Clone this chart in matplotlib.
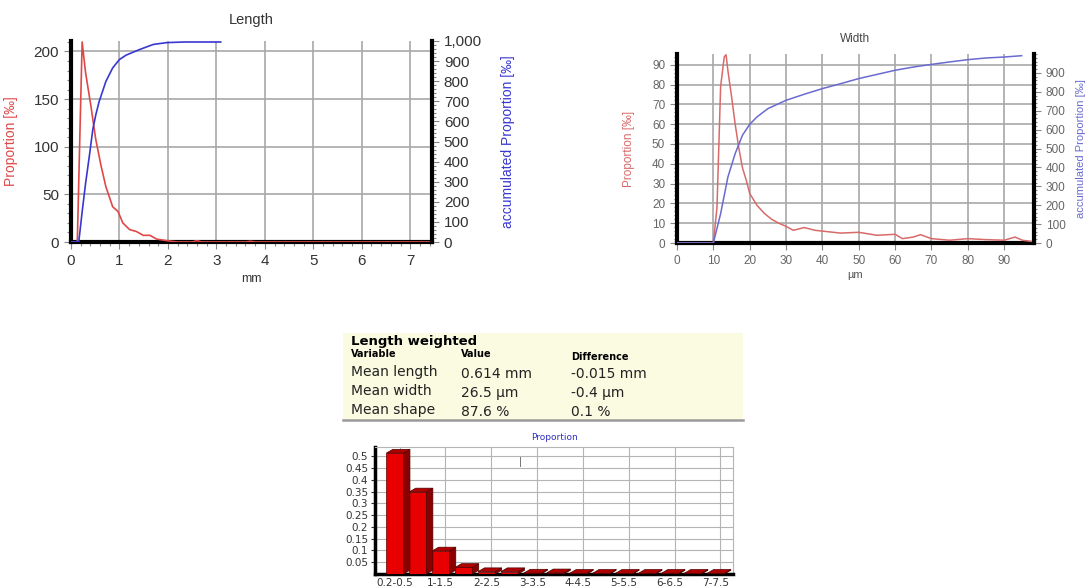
import numpy as np
import matplotlib
matplotlib.use("Agg")
import matplotlib.pyplot as plt
from matplotlib.patches import Polygon
from matplotlib.ticker import MultipleLocator, FuncFormatter

plt.rcParams['font.family'] = ['Liberation Sans', 'DejaVu Sans']

# --- Length distribution (mm, per mille) ---
len_x = [0, 0.13, 0.23, 0.30, 0.41, 0.51, 0.62, 0.72, 0.86, 0.97, 1.07, 1.21, 1.35,
         1.49, 1.63, 1.77, 1.98, 2.19, 2.5, 2.6, 2.7, 3.6, 3.7, 3.8, 7.45]
len_prop = [0, 0, 210, 178, 143, 108, 80, 58, 37, 32, 20, 13, 11,
            7, 7, 3, 1.4, 0, 0, 1.4, 0, 0, 0.8, 0, 0]
len_cum_x = [0, 0.16, 0.23, 0.30, 0.38, 0.45, 0.51, 0.58, 0.72, 0.86, 1.0, 1.14,
             1.42, 1.70, 1.98, 2.33, 3.09]
len_cum = [0, 0, 150, 290, 430, 560, 631, 698, 799, 866, 908, 930,
           958, 983, 992, 995, 995]

# --- Width distribution (um, per mille) ---
wid_x = [0, 10, 11, 12, 13, 13.5, 14, 15, 16, 17, 18, 19, 20, 22, 24, 26, 28, 30,
         32, 35, 38, 40, 45, 50, 55, 60, 62, 65, 67, 70, 75, 80, 85, 90, 93, 95, 98]
wid_prop = [0, 0, 18, 79, 94, 95, 87, 74, 60, 48, 38, 32, 25, 19, 15, 12, 10, 8.4,
            6.4, 7.8, 6.4, 6, 5, 5.4, 3.9, 4.4, 2.2, 3, 4.2, 2.2, 1.4, 2.2, 1.7, 1.4, 3, 1.4, 0.7]
wid_cum_x = [0, 10, 12, 14, 16, 18, 20, 22, 25, 30, 35, 40, 45, 50, 55, 60, 65,
             70, 75, 80, 85, 90, 94.8]
wid_cum = [0, 0, 155, 349, 473, 570, 628, 667, 711, 755, 787, 817, 843, 870, 892,
           914, 931, 945, 958, 970, 979, 984, 991]

# --- Summary table ---
table_title = "Length weighted"
table_head = ["Variable", "Value", "Difference"]
table_vars = ["Mean length", "Mean width", "Mean shape"]
table_vals = ["0.614 mm", "26.5 µm", "87.6 %"]
table_diff = ["-0.015 mm", "-0.4 µm", "0.1 %"]

# --- Proportion histogram ---
bar_cats = ["0.2-0.5", "0.5-1", "1-1.5", "1.5-2", "2-2.5", "2.5-3", "3-3.5", "3.5-4",
            "4-4.5", "4.5-5", "5-5.5", "5.5-6", "6-6.5", "6.5-7", "7-7.5"]
bar_vals = [0.514, 0.349, 0.098, 0.028, 0.01, 0.01, 0.004, 0.005, 0.003, 0.003,
            0.003, 0.003, 0.003, 0.003, 0.003]

W, H = 1085, 588
fig = plt.figure(figsize=(W / 100, H / 100), dpi=100)


def rect(l, t, r, b):
    return [l / W, 1 - b / H, (r - l) / W, (b - t) / H]


def fx(x):
    return x / W


def fy(y):
    return 1 - y / H


def style_dual(ax, ax2, tick_col, fs):
    for s in ['top', 'right']:
        ax.spines[s].set_visible(False)
    for s in ['left', 'bottom']:
        ax.spines[s].set_linewidth(3)
        ax.spines[s].set_color('black')
    for s in ['top', 'left', 'bottom']:
        ax2.spines[s].set_visible(False)
    ax2.spines['right'].set_linewidth(3)
    ax2.spines['right'].set_color('black')
    ax.tick_params(which='both', colors='#888888', labelcolor=tick_col, labelsize=fs, width=0.8)
    ax2.tick_params(which='both', colors='#888888', labelcolor=tick_col, labelsize=fs, width=0.8)
    ax.tick_params(which='major', length=5)
    ax.tick_params(which='minor', length=3)
    ax2.tick_params(which='major', length=5)
    ax2.tick_params(which='minor', length=3)
    ax.grid(True, which='major', color='#a8a8a8', lw=1.2)
    ax.set_axisbelow(True)


# Length chart
ax = fig.add_axes(rect(71, 41, 432, 242))
ax2 = ax.twinx()
ax.plot(len_x, len_prop, color='#e04848', lw=1.2, zorder=3)
ax2.plot(len_cum_x, len_cum, color='#3838d0', lw=1.2, zorder=3)
ax.set_xlim(0, 7.45)
ax.set_ylim(0, 211)
ax2.set_ylim(0, 1000)
ax.xaxis.set_major_locator(MultipleLocator(1))
ax.xaxis.set_minor_locator(MultipleLocator(0.2))
ax.yaxis.set_major_locator(MultipleLocator(50))
ax.yaxis.set_minor_locator(MultipleLocator(10))
ax2.yaxis.set_major_locator(MultipleLocator(100))
ax2.yaxis.set_minor_locator(MultipleLocator(20))
ax2.yaxis.set_major_formatter(FuncFormatter(lambda v, p: f"{v:,.0f}"))
style_dual(ax, ax2, '#333333', 11)
ax.set_title("Length", fontsize=10.5, color='#333333', pad=12)
ax.set_xlabel("mm", fontsize=9, color='#333333')
ax.set_ylabel("Proportion [‰]", fontsize=10, color='#e04848')
ax.yaxis.set_label_coords(-0.147, 0.5)
ax2.set_ylabel("accumulated Proportion [‰]", fontsize=10, color='#3838d0')
ax2.yaxis.set_label_coords(1.19, 0.5)

# Width chart
bx = fig.add_axes(rect(677, 54, 1034, 243))
bx2 = bx.twinx()
bx.plot(wid_x, wid_prop, color='#d86a6a', lw=1.1, zorder=3)
bx2.plot(wid_cum_x, wid_cum, color='#6a6ad0', lw=1.1, zorder=3)
bx.set_xlim(0, 98.2)
bx.set_ylim(0, 95.4)
bx2.set_ylim(0, 1000)
bx.xaxis.set_major_locator(MultipleLocator(10))
bx.yaxis.set_major_locator(MultipleLocator(10))
bx.yaxis.set_minor_locator(MultipleLocator(2))
bx2.yaxis.set_major_locator(MultipleLocator(100))
bx2.yaxis.set_minor_locator(MultipleLocator(20))
bx2.set_yticks(np.arange(0, 901, 100))
style_dual(bx, bx2, '#666666', 8.5)
bx.tick_params(which='minor', length=2)
bx2.tick_params(which='minor', length=2)
bx.set_title("Width", fontsize=8.5, color='#444444', pad=9)
bx.set_xlabel("µm", fontsize=8, color='#555555', labelpad=2)
bx.set_ylabel("Proportion [‰]", fontsize=8.5, color='#d86a6a')
bx.yaxis.set_label_coords(-0.118, 0.5)
bx2.set_ylabel("accumulated Proportion [‰]", fontsize=8, color='#6a6ad0')
bx2.yaxis.set_label_coords(1.118, 0.5)

# Table
tx = fig.add_axes(rect(343, 333, 743, 420))
tx.set_facecolor('#fbfbe2')
tx.set_xticks([])
tx.set_yticks([])
for s in ['top', 'left', 'right']:
    tx.spines[s].set_visible(False)
tx.spines['bottom'].set_color('#9a9a9a')
tx.spines['bottom'].set_linewidth(1.8)
tf = 'DejaVu Sans'
fig.text(fx(351), fy(341), table_title, fontsize=9.5, fontweight='bold', family=tf, va='center')
fig.text(fx(351), fy(354), table_head[0], fontsize=7, fontweight='bold', family=tf, va='center')
fig.text(fx(461), fy(354), table_head[1], fontsize=7, fontweight='bold', family=tf, va='center')
fig.text(fx(571), fy(357), table_head[2], fontsize=7, fontweight='bold', family=tf, va='center')
for i, (v, val, d) in enumerate(zip(table_vars, table_vals, table_diff)):
    y = 372 + i * 19
    fig.text(fx(351), fy(y), v, fontsize=10, family=tf, va='center', color='#222222')
    fig.text(fx(461), fy(y + 2), val, fontsize=10, family=tf, va='center', color='#222222')
    fig.text(fx(571), fy(y + 2), d, fontsize=10, family=tf, va='center', color='#222222')

# Proportion histogram (3D-looking bars)
cx = fig.add_axes(rect(375, 447, 733, 574))
pos = np.arange(len(bar_vals))
bw = 0.75
dx, dy = 0.28, 0.016
cx.bar(pos, bar_vals, width=bw, color='#e80000', edgecolor='#600000', lw=0.5, zorder=3)
for p, v in zip(pos, bar_vals):
    xr = p + bw / 2
    xl = p - bw / 2
    cx.add_patch(Polygon([(xr, 0), (xr + dx, dy), (xr + dx, v + dy), (xr, v)],
                         closed=True, facecolor='#8a0000', edgecolor='#500000', lw=0.5, zorder=3))
    cx.add_patch(Polygon([(xl, v), (xl + dx, v + dy), (xr + dx, v + dy), (xr, v)],
                         closed=True, facecolor='#b00000', edgecolor='#500000', lw=0.5, zorder=3))
cx.set_xlim(-0.87, 14.75)
cx.set_ylim(0, 0.54)
cx.set_xticks(pos[::2])
cx.set_xticklabels(bar_cats[::2], family=tf, fontsize=7.5, color='#333333')
cx.xaxis.set_minor_locator(MultipleLocator(2, offset=0.2))
cx.set_yticks(np.arange(0.05, 0.51, 0.05))
cx.set_yticklabels([f"{t:g}" for t in np.arange(0.05, 0.51, 0.05).round(2)], family=tf,
                   fontsize=7.5, color='#333333')
cx.tick_params(axis='x', which='both', length=0, pad=3)
cx.tick_params(axis='y', length=3, width=0.8, color='#333333', pad=2)
cx.grid(True, axis='y', color='#b4b4b4', lw=0.8)
cx.grid(True, axis='x', which='minor', color='#b4b4b4', lw=0.8)
cx.set_axisbelow(True)
for s in ['top', 'right']:
    cx.spines[s].set_color('#b4b4b4')
    cx.spines[s].set_linewidth(0.8)
cx.spines['left'].set_linewidth(2.5)
cx.spines['bottom'].set_linewidth(2.5)
cx.set_title("Proportion", fontsize=6.5, family=tf, color='#3030c0', pad=5)
fig.text(fx(520), fy(462), "|", fontsize=8, color='#666666', ha='center', va='center')

fig.savefig("out.png", dpi=100)
